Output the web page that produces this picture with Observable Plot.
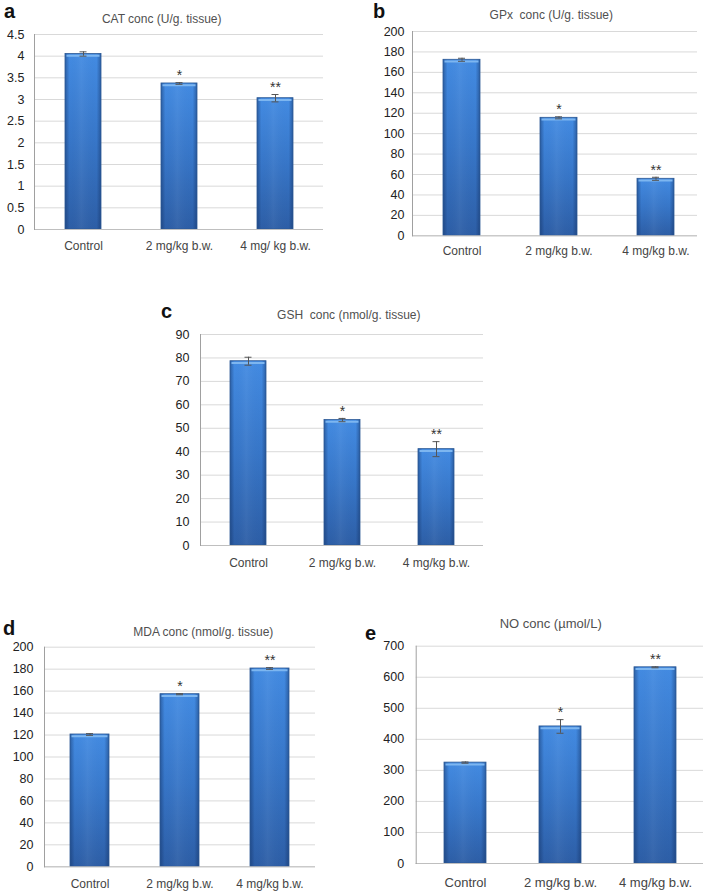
<!DOCTYPE html>
<html>
<head>
<meta charset="utf-8">
<script src="https://cdn.jsdelivr.net/npm/d3@7"></script>
<script src="https://cdn.jsdelivr.net/npm/@observablehq/plot@0.6"></script>
<style>
  html, body { margin: 0; padding: 0; background: #fff; }
  #root { position: relative; width: 708px; height: 892px; overflow: hidden; background: #fff;
          font-family: "Liberation Sans", Arial, sans-serif; }
  .panel { position: absolute; }
  .title { position: absolute; font-size: 12px; line-height: 12px; color: #505050; white-space: pre; transform: translateX(-50%); }
  .letter { position: absolute; font-size: 20px; line-height: 22px; font-weight: bold; color: #111; }
</style>
</head>
<body>
<div id="root"></div>
<script>
// ---- data ----
const categories = ["Control", "2 mg/kg b.w.", "4 mg/kg b.w."];
const categoriesA = ["Control", "2 mg/kg b.w.", "4 mg/ kg b.w."];
const significance = ["", "*", "**"];

const catValues = [4.05, 3.37, 3.03];
const catErrors = [0.05, 0.02, 0.085];
const catTicks = [0, 0.5, 1, 1.5, 2, 2.5, 3, 3.5, 4, 4.5];

const gpxValues = [172.3, 115.5, 55.8];
const gpxErrors = [1.5, 1.0, 1.5];
const gpxTicks = [0, 20, 40, 60, 80, 100, 120, 140, 160, 180, 200];

const gshValues = [78.6, 53.5, 41.1];
const gshErrors = [1.7, 0.7, 3.2];
const gshTicks = [0, 10, 20, 30, 40, 50, 60, 70, 80, 90];

const mdaValues = [120.5, 157.2, 180.6];
const mdaErrors = [0.8, 0.5, 0.8];
const mdaTicks = [0, 20, 40, 60, 80, 100, 120, 140, 160, 180, 200];

const noValues = [325, 441.5, 632];
const noErrors = [2, 22, 1.5];
const noTicks = [0, 100, 200, 300, 400, 500, 600, 700];

const titles = ["CAT conc (U/g. tissue)", "GPx  conc (U/g. tissue)", "GSH  conc (nmol/g. tissue)",
                "MDA conc (nmol/g. tissue)", "NO conc (\u00b5mol/L)"];
const letters = ["a", "b", "c", "d", "e"];

// ---- layout (page pixels) ----
const panels = [
  {id: "a", cats: categoriesA, vals: catValues, errs: catErrors, ticks: catTicks,
   box: [0, 24, 354, 236], frame: [34, 323, 34, 229], centers: [82, 179, 275.5], barW: 36,
   yPad: 10, xPad: 11.5, xFont: 12, yFont: 12.5,
   title: {x: 161.7, y: 13, size: 12}, letter: {x: 4, y: 0}},
  {id: "b", cats: categories, vals: gpxValues, errs: gpxErrors, ticks: gpxTicks,
   box: [354, 21, 354, 239], frame: [412, 697, 31, 235.3], centers: [460.5, 558, 655.5], barW: 37,
   yPad: 8, xPad: 10.5, xFont: 12, yFont: 12.5,
   title: {x: 551.3, y: 9, size: 12}, letter: {x: 373, y: 0}},
  {id: "c", cats: categories, vals: gshValues, errs: gshErrors, ticks: gshTicks,
   box: [140, 324, 380, 256], frame: [200, 483, 334, 545], centers: [247, 341, 436], barW: 36,
   yPad: 11, xPad: 12.5, xFont: 12, yFont: 12.5,
   title: {x: 348.8, y: 309, size: 12}, letter: {x: 161, y: 300}},
  {id: "d", cats: categories, vals: mdaValues, errs: mdaErrors, ticks: mdaTicks,
   box: [0, 636, 354, 256], frame: [44, 315, 646.7, 866.3], centers: [88.5, 179.5, 269.5], barW: 39,
   yPad: 11, xPad: 12.3, xFont: 12, yFont: 12.5,
   title: {x: 203.3, y: 625.5, size: 12}, letter: {x: 3, y: 617}},
  {id: "e", cats: categories, vals: noValues, errs: noErrors, ticks: noTicks,
   box: [354, 635, 354, 257], frame: [415.7, 703, 645.7, 863], centers: [464, 559, 655], barW: 42,
   yPad: 12, xPad: 14, xFont: 13, yFont: 12.5,
   title: {x: 550.7, y: 616.7, size: 13}, letter: {x: 365, y: 622}}
];

const root = document.getElementById("root");

panels.forEach((p, k) => {
  const [L, T, W, H] = p.box;
  const [fx0, fx1, fy0, fy1] = p.frame;
  const data = p.cats.map((c, i) => ({cat: c, v: p.vals[i], e: p.errs[i], s: significance[i]}));
  const step = p.centers[1] - p.centers[0];
  const pin = 1 - p.barW / step;
  const r0 = p.centers[0] - step / 2 - L;
  const r1 = p.centers[2] + step / 2 - L;
  const capInset = (p.barW - 7) / 2;
  const ymax = p.ticks[p.ticks.length - 1];

  const svg = Plot.plot({
    width: W, height: H,
    marginLeft: fx0 - L, marginRight: L + W - fx1,
    marginTop: fy0 - T, marginBottom: T + H - fy1,
    style: {fontFamily: '"Liberation Sans", Arial, sans-serif', background: "transparent", overflow: "visible", color: "#333"},
    x: {domain: p.cats, range: [r0, r1], paddingInner: pin, paddingOuter: pin / 2, label: null},
    y: {domain: [0, ymax], label: null},
    marks: [
      Plot.gridY(p.ticks, {stroke: "#d9d9d9", strokeOpacity: 1}),
      Plot.barY(data, {x: "cat", y: "v", fill: `url(#gv${p.id})`}),
      Plot.barY(data, {x: "cat", y: "v", fill: `url(#gh${p.id})`, stroke: "#2b5894", strokeWidth: 0.8}),
      Plot.tickY(data, {x: "cat", y: "v", stroke: "#7db6f0", strokeWidth: 2, dy: 1.8, insetLeft: 1.5, insetRight: 1.5}),
      Plot.ruleY([0], {stroke: "#bfbfbf", strokeWidth: 1}),
      Plot.frame({anchor: "left", stroke: "#a0a0a0"}),
      Plot.ruleX(data, {x: "cat", y1: d => d.v - d.e, y2: d => d.v + d.e, stroke: "#555", strokeWidth: 1}),
      Plot.tickY(data, {x: "cat", y: d => d.v + d.e, stroke: "#555", insetLeft: capInset, insetRight: capInset}),
      Plot.tickY(data, {x: "cat", y: d => d.v - d.e, stroke: "#555", insetLeft: capInset, insetRight: capInset}),
      Plot.text(data, {x: "cat", y: d => d.v + d.e, text: "s", dy: -7, fontSize: 14, fill: "#333"}),
      Plot.axisY(p.ticks, {tickSize: 0, tickPadding: p.yPad, tickFormat: d => String(d), fontSize: p.yFont, fill: "#222", label: null}),
      Plot.axisX({tickSize: 0, tickPadding: p.xPad, fontSize: p.xFont, fill: "#444", label: null})
    ]
  });

  const ns = "http://www.w3.org/2000/svg";
  const defs = document.createElementNS(ns, "defs");
  defs.innerHTML = `
    <linearGradient id="gv${p.id}" x1="0" y1="0" x2="0" y2="1">
      <stop offset="0" stop-color="#438be2"/>
      <stop offset="0.5" stop-color="#3776c8"/>
      <stop offset="1" stop-color="#2d5ea6"/>
    </linearGradient>
    <linearGradient id="gh${p.id}" x1="0" y1="0" x2="1" y2="0">
      <stop offset="0" stop-color="#102c5c" stop-opacity="0.45"/>
      <stop offset="0.12" stop-color="#102c5c" stop-opacity="0"/>
      <stop offset="0.45" stop-color="#ffffff" stop-opacity="0.05"/>
      <stop offset="0.88" stop-color="#102c5c" stop-opacity="0"/>
      <stop offset="1" stop-color="#102c5c" stop-opacity="0.45"/>
    </linearGradient>`;
  svg.insertBefore(defs, svg.firstChild);

  const wrap = document.createElement("div");
  wrap.className = "panel";
  wrap.style.left = L + "px";
  wrap.style.top = T + "px";
  wrap.appendChild(svg);
  root.appendChild(wrap);

  const t = document.createElement("div");
  t.className = "title";
  t.textContent = titles[k];
  t.style.left = p.title.x + "px";
  t.style.top = p.title.y + "px";
  t.style.fontSize = p.title.size + "px";
  t.style.lineHeight = p.title.size + "px";
  root.appendChild(t);

  const l = document.createElement("div");
  l.className = "letter";
  l.textContent = letters[k];
  l.style.left = p.letter.x + "px";
  l.style.top = p.letter.y + "px";
  root.appendChild(l);
});
</script>
</body>
</html>
